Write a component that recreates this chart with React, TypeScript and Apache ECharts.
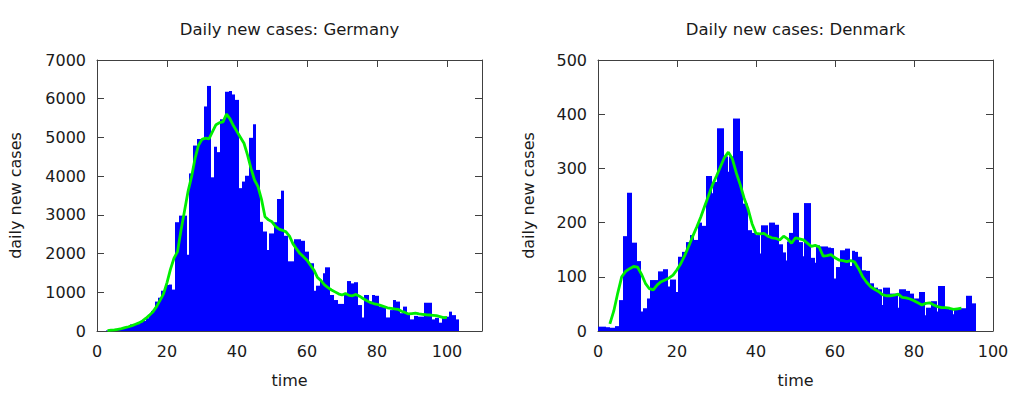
import React, { useEffect, useRef } from "react";
import * as echarts from "echarts";

// ---------- data ----------
// Germany: daily new cases as [from time, to time, cases] bins
const deBins: [number, number, number][] = [
  [2.5, 3.5, 15], [3.5, 4.5, 20], [4.5, 5.5, 30], [5.5, 6.5, 40], [6.5, 7.5, 55],
  [7.5, 8.5, 80], [8.5, 9.3, 100], [9.3, 10.3, 170], [10.3, 11.3, 175], [11.3, 12.2, 180],
  [12.2, 13.2, 230], [13.2, 14.1, 260], [14.1, 14.8, 330], [14.8, 15.5, 420], [15.5, 16.5, 520],
  [16.5, 17.5, 760], [17.5, 18.4, 860], [18.4, 19.5, 1040], [19.5, 20.5, 1190], [20.5, 21.3, 1200],
  [21.3, 22.2, 1070], [22.2, 23.5, 2810], [23.5, 24.5, 2980], [24.5, 25.7, 2980], [25.7, 26.4, 1970],
  [26.4, 27.4, 4070], [27.4, 28.6, 4790], [28.6, 29.5, 4960], [29.5, 30.5, 4960], [30.5, 31.4, 5800],
  [31.4, 32.6, 6330], [32.6, 33.3, 3970], [33.3, 34.3, 4760], [34.3, 35.2, 4620], [35.2, 36.5, 5470],
  [36.5, 37.6, 6180], [37.6, 38.6, 6200], [38.6, 39.5, 6110], [39.5, 40.5, 5970], [40.5, 41.4, 3690],
  [41.4, 42.4, 3860], [42.4, 43.5, 4010], [43.5, 44.5, 4990], [44.5, 45.4, 5340], [45.4, 46.6, 4160],
  [46.6, 47.5, 2820], [47.5, 48.6, 2570], [48.6, 49.2, 2090], [49.2, 50.5, 2520], [50.5, 51.4, 2810],
  [51.4, 52.5, 3410], [52.5, 53.5, 3625], [53.5, 54.5, 2460], [54.5, 55.4, 1800], [55.4, 56.2, 1800],
  [56.2, 57.3, 2370], [57.3, 58.4, 2370], [58.4, 59.5, 2330], [59.5, 60.5, 2050], [60.5, 61.9, 1750],
  [61.9, 62.6, 1040], [62.6, 63.6, 1170], [63.6, 64.6, 1290], [64.6, 65.2, 1490], [65.2, 66.7, 1645],
  [66.7, 67.6, 930], [67.6, 68.8, 800], [68.8, 69.6, 700], [69.6, 70.5, 700], [70.5, 71.4, 930],
  [71.4, 72.6, 1290], [72.6, 73.5, 1230], [73.5, 74.5, 1260], [74.5, 75.7, 670], [75.7, 76.4, 350],
  [76.4, 77.6, 930], [77.6, 78.6, 760], [78.6, 79.5, 930], [79.5, 80.7, 910], [80.7, 81.6, 630],
  [81.6, 82.7, 610], [82.7, 83.6, 350], [83.6, 84.6, 540], [84.6, 85.5, 800], [85.5, 86.5, 760],
  [86.5, 87.4, 460], [87.4, 88.6, 630], [88.6, 89.5, 460], [89.5, 90.5, 300], [90.5, 91.6, 390],
  [91.6, 92.6, 370], [92.6, 93.5, 370], [93.5, 94.6, 730], [94.6, 95.7, 730], [95.7, 96.7, 300],
  [96.7, 97.6, 340], [97.6, 98.6, 215], [98.6, 99.6, 370], [99.6, 100.5, 370], [100.5, 101.4, 500],
  [101.4, 102.6, 410], [102.6, 103.5, 300],
];

// Germany: smoothed curve [time, cases]
const deSmooth: [number, number][] = [
  [3, 10], [4, 20], [5, 30], [6, 45], [7, 60], [8, 85], [9, 110], [10, 140], [11, 175], [12, 210],
  [13, 260], [14, 330], [15, 410], [16, 500], [17, 630], [18, 790], [19, 960], [20, 1250], [21, 1600],
  [22, 1880], [23, 2050], [24, 2600], [25, 3100], [26, 3600], [27, 3980], [28, 4450], [29, 4800],
  [30, 4950], [31, 4980], [32, 4960], [33, 5150], [34, 5330], [35, 5380], [36, 5400], [37, 5600],
  [38, 5480], [39, 5300], [40, 5150], [41, 5000], [42, 4850], [43, 4550], [44, 4200], [45, 3900],
  [46, 3730], [47, 3400], [48, 2950], [49, 2870], [50, 2820], [51, 2700], [52, 2630], [53, 2600],
  [54, 2560], [55, 2450], [56, 2250], [57, 2120], [58, 2000], [59, 1920], [60, 1830], [61, 1700],
  [62, 1570], [63, 1380], [64, 1300], [65, 1190], [66, 1120], [67, 1060], [68, 1010], [69, 960],
  [70, 930], [71, 970], [72, 920], [73, 910], [74, 945], [75, 900], [76, 840], [77, 790], [78, 740],
  [79, 710], [80, 690], [81, 660], [82, 630], [83, 600], [84, 585], [85, 570], [86, 560], [87, 510],
  [88, 480], [89, 440], [90, 450], [91, 460], [92, 440], [93, 430], [94, 420], [95, 413], [96, 405],
  [97, 395], [98, 370], [99, 345], [100, 350],
];

// Denmark: daily new cases as [from time, to time, cases] bins
const dkBins: [number, number, number][] = [
  [0, 1.1, 8], [1.1, 2.1, 8], [2.1, 3.1, 7], [3.1, 4.2, 6], [4.2, 5.2, 9],
  [5.2, 6.25, 57], [6.25, 7.4, 175], [7.4, 8.7, 255], [8.7, 9.9, 163], [9.9, 10.9, 129],
  [10.9, 11.3, 36], [11.3, 12.3, 42], [12.3, 13.2, 60], [13.2, 14.25, 94], [14.25, 15.3, 94],
  [15.3, 16.4, 110], [16.4, 17.8, 114], [17.8, 18.3, 82], [18.3, 19.7, 95], [19.7, 20.2, 72],
  [20.2, 21.3, 137], [21.3, 22.3, 146], [22.3, 23.3, 164], [23.3, 24.3, 177], [24.3, 25.2, 168],
  [25.2, 26.4, 200], [26.4, 27.4, 194], [27.4, 28.8, 286], [28.8, 29.2, 254], [29.2, 30.1, 275],
  [30.1, 31.0, 374], [31.0, 31.8, 374], [31.8, 32.8, 322], [32.8, 33.2, 294], [33.2, 34.1, 322],
  [34.1, 35.0, 392], [35.0, 35.95, 392], [35.95, 36.8, 332], [36.8, 37.9, 235], [37.9, 38.9, 186],
  [38.9, 40.0, 181], [40.0, 41.0, 177], [41.0, 41.35, 143], [41.35, 42.2, 195], [42.2, 43.0, 195],
  [43.0, 43.4, 172], [43.4, 44.8, 200], [44.8, 45.9, 196], [45.9, 46.9, 160], [46.9, 47.5, 145],
  [47.5, 47.8, 130], [47.8, 48.4, 165], [48.4, 49.4, 181], [49.4, 50.8, 218], [50.8, 51.9, 164],
  [51.9, 52.2, 138], [52.2, 53.8, 236], [53.8, 54.9, 135], [54.9, 55.3, 126], [55.3, 56.3, 158],
  [56.3, 57.2, 156], [57.2, 58.2, 156], [58.2, 59.0, 154], [59.0, 59.8, 153], [59.8, 60.2, 97],
  [60.2, 61.3, 118], [61.3, 62.5, 149], [62.5, 63.8, 152], [63.8, 64.2, 120], [64.2, 65.0, 148],
  [65.0, 65.8, 146], [65.8, 66.8, 137], [66.8, 67.8, 112], [67.8, 68.8, 111], [68.8, 69.8, 88],
  [69.8, 70.8, 80], [70.8, 71.8, 77], [71.8, 72.1, 48], [72.1, 73.0, 80], [73.0, 73.8, 80],
  [73.8, 75.0, 69], [75.0, 76.0, 69], [76.0, 76.3, 43], [76.3, 77.1, 77], [77.1, 77.9, 77],
  [77.9, 78.9, 74], [78.9, 79.9, 69], [79.9, 81.2, 60], [81.2, 82.0, 72], [82.0, 82.9, 72],
  [82.9, 83.1, 29], [83.1, 84.2, 43], [84.2, 85.0, 55], [85.0, 85.8, 55], [85.8, 86.1, 36],
  [86.1, 87.0, 83], [87.0, 87.8, 83], [87.8, 88.9, 43], [88.9, 89.9, 40], [89.9, 90.1, 31],
  [90.1, 91.5, 39], [91.5, 92.3, 42], [92.3, 93.1, 42], [93.1, 94.0, 65], [94.0, 94.8, 65],
  [94.8, 95.8, 51],
];

// Denmark: smoothed curve [time, cases]
const dkSmooth: [number, number][] = [
  [3, 13], [4, 37], [5, 70], [6, 100], [7, 110], [8, 115], [9, 119], [10, 118], [11, 105], [12, 88],
  [13, 78], [14, 76], [15, 85], [16, 91], [17, 94], [18, 98], [19, 103], [20, 113], [21, 125],
  [22, 140], [23, 157], [24, 175], [25, 192], [26, 210], [27, 230], [28, 250], [29, 270], [30, 286],
  [31, 303], [32, 320], [33, 330], [34, 318], [35, 292], [36, 270], [37, 245], [38, 225], [39, 198],
  [40, 180], [41, 179], [42, 180], [43, 175], [44, 172], [45, 171], [46, 168], [47, 175], [48, 170],
  [49, 162], [50, 172], [51, 170], [52, 168], [53, 162], [54, 156], [55, 158], [56, 155], [57, 138],
  [58, 139], [59, 141], [60, 135], [61, 131], [62, 130], [63, 128], [64, 130], [65, 127], [66, 115],
  [67, 100], [68, 90], [69, 82], [70, 77], [71, 73], [72, 67], [73, 65], [74, 65], [75, 66], [76, 68],
  [77, 62], [78, 61], [79, 59], [80, 56], [81, 52], [82, 48], [83, 51], [84, 52], [85, 48], [86, 45],
  [87, 43], [88, 43], [89, 42], [90, 40], [91, 41], [92, 42],
];

const titles = ["Daily new cases: Germany", "Daily new cases: Denmark"];
const xLabel = "time";
const yLabel = "daily new cases";
const deXTicks = { min: 0, max: 110, interval: 20 };
const deYTicks = { min: 0, max: 7000, interval: 1000 };
const dkXTicks = { min: 0, max: 100, interval: 20 };
const dkYTicks = { min: 0, max: 500, interval: 100 };

// ---------- style ----------
const FONT = "'DejaVu Sans', Verdana, sans-serif";
const TEXT = "#1a1a1a";
const FRAME = "#404040";
const BLUE = "#0000ff";
const GREEN = "#00ee00";

const renderBox = (_params: any, api: any) => {
  const a = api.coord([api.value(0), api.value(2)]);
  const b = api.coord([api.value(1), 0]);
  const x0 = Math.round(a[0]);
  const x1 = Math.round(b[0]);
  return {
    type: "rect",
    shape: { x: x0, y: a[1], width: Math.max(x1 - x0, 1), height: b[1] - a[1] },
    style: { fill: BLUE },
  };
};

function App() {
  const ref = useRef<HTMLDivElement>(null);

  useEffect(() => {
    if (!ref.current) return;
    const chart = echarts.init(ref.current, null, { renderer: "svg" });

    const axisLine = { show: true, onZero: false, lineStyle: { color: FRAME, width: 1 } };
    const axisTick = { show: true, inside: true, length: 7, lineStyle: { color: FRAME, width: 1 } };
    const label = { fontSize: 16, color: TEXT, fontFamily: FONT };

    const xPair = (grid: number, ticks: any, hideAbove: number) => [
      {
        gridIndex: grid, type: "value", position: "bottom", ...ticks,
        axisLine, axisTick, splitLine: { show: false },
        axisLabel: { ...label, margin: 12, formatter: (v: number) => (v > hideAbove ? "" : String(v)) },
        name: xLabel, nameLocation: "middle", nameGap: 41,
        nameTextStyle: { ...label },
      },
      {
        gridIndex: grid, type: "value", position: "top", ...ticks,
        axisLine, axisTick, splitLine: { show: false }, axisLabel: { show: false },
      },
    ];
    const yPair = (grid: number, ticks: any, gap: number) => [
      {
        gridIndex: grid, type: "value", position: "left", ...ticks,
        axisLine, axisTick, splitLine: { show: false },
        axisLabel: { ...label, margin: 11, formatter: (v: number) => String(v) },
        name: yLabel, nameLocation: "middle", nameGap: gap, nameRotate: 90,
        nameTextStyle: { ...label },
      },
      {
        gridIndex: grid, type: "value", position: "right", ...ticks,
        axisLine, axisTick, splitLine: { show: false }, axisLabel: { show: false },
      },
    ];

    const titleStyle = { fontSize: 16.5, fontWeight: "normal", color: TEXT, fontFamily: FONT };

    chart.setOption({
      animation: false,
      backgroundColor: "#ffffff",
      textStyle: { fontFamily: FONT },
      title: [
        { text: titles[0], left: 289.5, top: 21, textAlign: "center", padding: 0, textStyle: titleStyle },
        { text: titles[1], left: 795.5, top: 21, textAlign: "center", padding: 0, textStyle: titleStyle },
      ],
      grid: [
        { left: 97, top: 60, width: 385, height: 271 },
        { left: 598, top: 60, width: 395, height: 271 },
      ],
      xAxis: [...xPair(0, deXTicks, 100), ...xPair(1, dkXTicks, 100)],
      yAxis: [...yPair(0, deYTicks, 74), ...yPair(1, dkYTicks, 62)],
      series: [
        {
          type: "custom", xAxisIndex: 0, yAxisIndex: 0, renderItem: renderBox,
          encode: { x: [0, 1], y: 2 }, data: deBins, clip: true, z: 2,
        },
        {
          type: "line", xAxisIndex: 0, yAxisIndex: 0, data: deSmooth, symbol: "none",
          lineStyle: { color: GREEN, width: 2.8 }, itemStyle: { color: GREEN }, z: 3,
        },
        {
          type: "custom", xAxisIndex: 2, yAxisIndex: 2, renderItem: renderBox,
          encode: { x: [0, 1], y: 2 }, data: dkBins, clip: true, z: 2,
        },
        {
          type: "line", xAxisIndex: 2, yAxisIndex: 2, data: dkSmooth, symbol: "none",
          lineStyle: { color: GREEN, width: 2.8 }, itemStyle: { color: GREEN }, z: 3,
        },
      ],
    });

    return () => chart.dispose();
  }, []);

  return (
    <div
      ref={ref}
      style={{ position: "absolute", left: 0, top: 0, width: 1024, height: 394, background: "#fff" }}
    />
  );
}

export default App;
